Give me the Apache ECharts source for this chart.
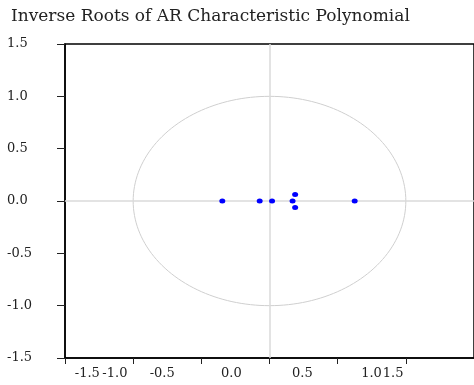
<!DOCTYPE html>
<html>
<head>
<meta charset="utf-8">
<script src="https://cdn.jsdelivr.net/npm/echarts@6/dist/echarts.min.js"></script>
<style>
  html, body { margin: 0; padding: 0; background: #fff; }
  #chart { width: 474px; height: 385px; }
</style>
</head>
<body>
<div id="chart"></div>
<script>
// inverse roots (real / imaginary parts)
var rootRe = [-0.346, -0.072, 0.019, 0.169, 0.188, 0.188, 0.625];
var rootIm = [0, 0, 0, 0, 0.061, -0.061, 0];

// axis ticks
var yTicks = [-1.5, -1.0, -0.5, 0.0, 0.5, 1.0, 1.5];
var xTicks = [-1.5, -1.0, -0.5, 0.0, 0.5, 1.0, 1.5];
// x labels sit shifted from their ticks in the original, kept that way
var xTickLabels = ['-1.5', '-1.0', '-0.5', '0.0', '0.5', '1.0', '1.5'];
var xLabelAt = [-1.336, -1.134, -0.787, -0.280, 0.241, 0.748, 0.907];

var serif = "'DejaVu Serif', 'Liberation Serif', serif";

// unit circle
var circle = [];
for (var i = 0; i <= 180; i++) {
  var a = i / 180 * 2 * Math.PI;
  circle.push([Math.cos(a), Math.sin(a)]);
}

var roots = rootRe.map(function (r, k) { return [r, rootIm[k]]; });

var option = {
  animation: false,
  title: {
    text: 'Inverse Roots of AR Characteristic Polynomial',
    left: 6,
    top: 3,
    textStyle: { fontFamily: serif, fontWeight: 'normal', fontSize: 17, color: '#222' }
  },
  grid: {
    left: 65,
    top: 44,
    width: 414,
    height: 314,
    show: true,
    borderColor: '#000',
    borderWidth: 1.5
  },
  xAxis: {
    type: 'value',
    min: -1.5,
    max: 1.5,
    interval: 0.5,
    axisLine: { onZero: false, lineStyle: { color: '#000', width: 1.5 } },
    axisTick: { customValues: xTicks, length: 6, lineStyle: { color: '#222' } },
    axisLabel: {
      customValues: xLabelAt,
      margin: 9,
      fontFamily: serif,
      fontSize: 13,
      color: '#222',
      formatter: function (v) {
        var k = xLabelAt.indexOf(v);
        return k >= 0 ? xTickLabels[k] : '';
      }
    },
    splitLine: { show: false }
  },
  yAxis: {
    type: 'value',
    min: -1.5,
    max: 1.5,
    interval: 0.5,
    axisLine: { onZero: false, lineStyle: { color: '#000', width: 1.5 } },
    axisTick: { customValues: yTicks, length: 8, lineStyle: { color: '#222' } },
    axisLabel: {
      align: 'left',
      margin: 58,
      fontFamily: serif,
      fontSize: 13,
      color: '#222',
      formatter: function (v) { return v.toFixed(1); }
    },
    splitLine: { show: false }
  },
  series: [
    {
      type: 'line',
      data: circle,
      showSymbol: false,
      silent: true,
      lineStyle: { color: '#cfcfcf', width: 1 },
      markLine: {
        silent: true,
        symbol: 'none',
        label: { show: false },
        lineStyle: { color: '#dadada', type: 'solid', width: 1.5 },
        data: [{ xAxis: 0 }, { yAxis: 0 }]
      }
    },
    {
      type: 'scatter',
      data: roots,
      symbol: 'circle',
      symbolSize: [6, 5],
      itemStyle: { color: '#0000ff', opacity: 1 },
      z: 5
    }
  ]
};

var chart = echarts.init(document.getElementById('chart'));
chart.setOption(option);
</script>
</body>
</html>
